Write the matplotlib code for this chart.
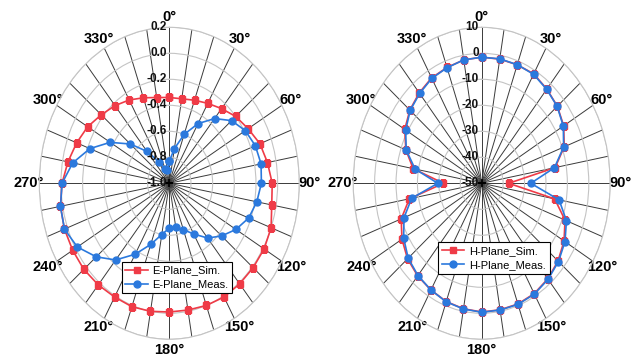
import numpy as np
import matplotlib
matplotlib.use("Agg")
import matplotlib.pyplot as plt

plt.rcParams['font.family'] = ['Liberation Sans', 'DejaVu Sans']

# ---- data ----
angles_deg = list(range(0, 360, 10))

e_sim = [-0.34, -0.34, -0.32, -0.29, -0.25, -0.20, -0.16, -0.11, -0.08, -0.05,
         -0.04, -0.00, 0.01, 0.01, 0.01, 0.01, 0.00, -0.01, -0.01, -0.00,
         0.01, 0.01, 0.02, 0.03, 0.03, 0.03, 0.02, -0.01, -0.05, -0.09,
         -0.13, -0.18, -0.22, -0.26, -0.30, -0.33]
e_meas = [-0.83, -0.73, -0.60, -0.47, -0.35, -0.25, -0.19, -0.155, -0.14, -0.15,
          -0.18, -0.22, -0.29, -0.37, -0.45, -0.55, -0.62, -0.655, -0.655, -0.60,
          -0.50, -0.37, -0.23, -0.12, -0.02, 0.03, 0.02, -0.01, -0.095, -0.22,
          -0.37, -0.53, -0.68, -0.81, -0.88, -0.895]

h_sim = [-1.5, -1.5, -1.5, -1.4, -2.7, -3.9, -5.8, -9.0, -15.2, -37.4,
         -15.4, -8.6, -5.6, -3.5, -2.0, -1.0, -0.6, -0.6, -0.5, -1.0,
         -1.6, -2.6, -3.5, -4.8, -7.0, -10.0, -15.7, -32.1, -17.5, -12.3,
         -8.5, -6.2, -4.6, -3.2, -2.6, -1.8]
h_meas = [-1.5, -1.4, -1.45, -1.6, -2.8, -4.0, -6.0, -9.3, -15.5, -27.1,
          -13.3, -7.9, -5.1, -3.2, -1.8, -0.8, -0.45, -0.5, -0.4, -0.9,
          -1.5, -2.6, -3.7, -5.2, -7.9, -11.4, -16.8, -29.5, -18.4, -12.5,
          -9.0, -6.4, -4.9, -3.4, -2.7, -1.8]

e_rticks = [-1.0, -0.8, -0.6, -0.4, -0.2, 0.0, 0.2]
e_rlabels = ['-1.0', '-0.8', '-0.6', '-0.4', '-0.2', '0.0', '0.2']
h_rticks = [-50, -40, -30, -20, -10, 0, 10]
h_rlabels = ['-50', '-40', '-30', '-20', '-10', '0', '10']

theta_labels = [f'{d}\u00b0' if d % 30 == 0 else '' for d in angles_deg]

legend_e = ['E-Plane_Sim.', 'E-Plane_Meas.']
legend_h = ['H-Plane_Sim.', 'H-Plane_Meas.']

RED = '#ef3b47'
BLUE = '#2b79dd'

fig = plt.figure(figsize=(6.43, 3.60), dpi=100)
fig.patch.set_facecolor('white')


def make_axes(rect, rticks, rlabels, sim, meas, names, leg_anchor):
    ax = fig.add_axes(rect, projection='polar')
    ax.set_aspect('auto')
    ax.set_theta_zero_location('N')
    ax.set_theta_direction(-1)
    th = np.deg2rad(np.array(angles_deg + [angles_deg[0]]))
    s = np.array(sim + [sim[0]])
    m = np.array(meas + [meas[0]])
    l1, = ax.plot(th, s, color=RED, lw=1.2, marker='s', ms=4.5,
                  mec=RED, mfc=RED, zorder=3)
    l2, = ax.plot(th, m, color=BLUE, lw=1.2, marker='o', ms=5,
                  mec=BLUE, mfc=BLUE, zorder=4)
    ax.set_rlim(rticks[0], rticks[-1])
    ax.set_yticks(rticks[1:])
    ax.set_yticklabels([])
    ax.set_xticks(np.deg2rad(angles_deg))
    ax.set_xticklabels(theta_labels, fontsize=10.5, fontweight='bold')
    ax.tick_params(axis='x', pad=0.5, length=0)
    ax.xaxis.grid(True, color='#3a3a3a', lw=0.7)
    ax.yaxis.grid(True, color='#c4c4c4', lw=0.8)
    ax.spines['polar'].set_color('#c4c4c4')
    ax.spines['polar'].set_linewidth(0.8)
    for v, lab in zip(rticks, rlabels):
        ax.annotate(lab, (0, v), xytext=(-2, 0), textcoords='offset points',
                    ha='right', va='center', fontsize=8.5, fontweight='bold',
                    color='#111111', zorder=6)
    ax.plot([0], [rticks[0]], marker='+', color='black', ms=6, mew=1.2, zorder=5)
    leg = fig.legend([l1, l2], names, loc='upper left', bbox_to_anchor=leg_anchor,
                     bbox_transform=fig.transFigure, fontsize=8, frameon=True,
                     fancybox=False, framealpha=1, edgecolor='black',
                     handlelength=2.0, borderpad=0.35, labelspacing=0.35,
                     handletextpad=0.4, borderaxespad=0)
    leg.get_frame().set_linewidth(0.8)
    return ax


make_axes([0.0611, 0.0575, 0.4044, 0.8667], e_rticks, e_rlabels, e_sim, e_meas,
          legend_e, (0.189, 0.273))
make_axes([0.5493, 0.0575, 0.3997, 0.8667], h_rticks, h_rlabels, h_sim, h_meas,
          legend_h, (0.6817, 0.327))

fig.savefig('out.png', dpi=100)
